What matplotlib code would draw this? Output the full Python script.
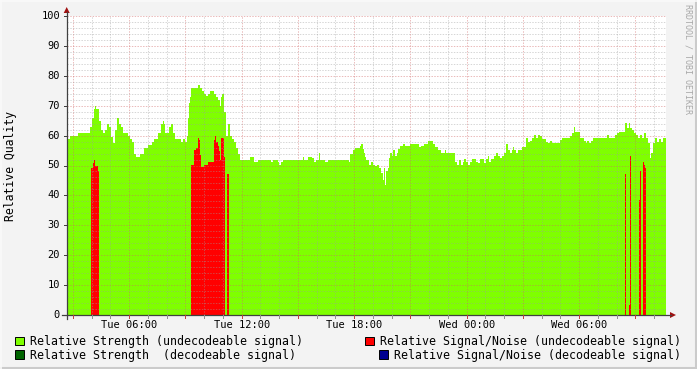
import numpy as np
import matplotlib
matplotlib.use("Agg")
import matplotlib.pyplot as plt
from matplotlib.lines import Line2D
from matplotlib.patches import Rectangle, Polygon
from matplotlib.transforms import blended_transform_factory

# ---------------- data (minutes since Tue 00:00, step starts) ----------------
strength_t = [160, 164, 171, 196, 235, 241, 247, 251, 254, 263,
              270, 276, 283, 289, 295, 302, 308, 315, 321, 327,
              334, 340, 356, 363, 369, 375, 382, 395, 407, 420,
              433, 439, 452, 462, 468, 471, 475, 487, 494, 500,
              507, 526, 532, 539, 545, 548, 551, 555, 558, 580,
              587, 593, 599, 606, 612, 619, 631, 638, 644, 651,
              654, 657, 663, 670, 676, 683, 689, 695, 702, 708,
              715, 747, 759, 772, 815, 820, 836, 839, 846, 852,
              916, 919, 932, 945, 951, 958, 966, 971, 986, 996,
              1063, 1067, 1076, 1083, 1099, 1102, 1108, 1111, 1115, 1118,
              1127, 1134, 1140, 1147, 1153, 1160, 1166, 1172, 1176, 1180,
              1183, 1189, 1192, 1196, 1201, 1205, 1211, 1217, 1221, 1227,
              1237, 1244, 1259, 1287, 1294, 1303, 1316, 1332, 1339, 1347,
              1358, 1371, 1374, 1403, 1409, 1415, 1422, 1428, 1431, 1438,
              1444, 1451, 1457, 1470, 1476, 1483, 1495, 1502, 1508, 1511,
              1518, 1527, 1534, 1540, 1547, 1553, 1559, 1566, 1572, 1579,
              1585, 1588, 1591, 1598, 1604, 1617, 1623, 1630, 1636, 1643,
              1649, 1655, 1662, 1668, 1675, 1681, 1694, 1700, 1707, 1713,
              1739, 1745, 1771, 1777, 1783, 1787, 1803, 1815, 1822, 1825,
              1831, 1838, 1844, 1889, 1895, 1915, 1921, 1927, 1947, 1953,
              1959, 1963, 1969, 1975, 1982, 1988, 1995, 2001, 2007, 2014,
              2020, 2027, 2030, 2036, 2043, 2049, 2056, 2062, 2068]
strength_v = [58, 59, 60, 61, 63, 66, 69, 70, 69, 65,
              62, 61, 62, 64, 63, 59.5, 57.5, 62, 66, 64,
              63, 61, 60, 59, 58, 54, 53, 54, 56, 57,
              58, 59, 61, 64, 65, 64, 61, 63, 64, 61,
              59, 58, 59, 58, 60, 66, 71, 73, 76, 77,
              76, 75, 74, 73.3, 74, 75, 74, 73, 72, 70,
              73, 74, 68, 60, 64, 60, 59, 58, 56, 54,
              52, 53, 51.3, 52, 51.3, 52, 51.3, 50.2, 51.3, 52,
              53, 52, 53, 52.4, 51.3, 52, 54.3, 52, 51.3, 52,
              51.3, 54, 55.2, 56, 56.6, 57.2, 55.4, 54.3, 53, 52,
              50.2, 51.3, 50.2, 49.7, 50.2, 49.1, 47.4, 45.2, 49, 43.6,
              48, 49.1, 52.4, 54.1, 53.2, 55.2, 53.2, 54.3, 55.4, 56.6,
              57.2, 56.6, 57.2, 56.3, 56.6, 57.2, 58.1, 57.2, 56.3, 55.2,
              54.3, 55.2, 54.3, 51.3, 50.2, 52, 50.2, 51.3, 52.1, 51.3,
              50.2, 51.3, 52.1, 51.3, 50.8, 52.1, 50.8, 52.1, 53.2, 51.3,
              52.1, 53.2, 54.1, 53.2, 52.4, 53.2, 54.1, 57.2, 55.2, 54.3,
              55.2, 56.1, 55.2, 54.3, 55.2, 56.1, 56.3, 59.1, 58, 58.3,
              59.1, 60.2, 59.1, 60.2, 59.7, 58.8, 58, 57.4, 58.3, 57.4,
              58.6, 59.1, 59.9, 60.8, 63, 61.3, 59.2, 58.3, 57.4, 58.3,
              57.4, 58.3, 59.2, 60.1, 59.2, 60.1, 61, 61.2, 64.1, 62.4,
              64.1, 62.4, 61.9, 61, 60.2, 59.2, 60.2, 59.2, 61, 59.2,
              57.4, 52.4, 54.3, 57.4, 59.2, 58, 58.8, 58, 59.2]

snr_t = [160, 238, 244, 247, 251, 260, 263,
         558, 567, 574, 580, 583, 587, 590, 599, 612, 631, 635, 638, 644, 647,
         651, 654, 663, 667, 674, 680,
         1947, 1950, 1959, 1963, 1966, 1991, 1995, 1998, 2004, 2007, 2011, 2014]
snr_v = [0, 49, 51, 52, 50, 48, 0,
         50.1, 55.2, 56, 59.1, 58.6, 53.6, 49.4, 50.2, 51.3, 58.6, 59.7, 58, 56.6, 54.7,
         51.9, 59.1, 53, 0, 47.2, 0,
         47.2, 0, 3.3, 53.2, 0, 38.5, 48.2, 0, 51.2, 50.2, 49.2, 0]

t_start, t_end = 160, 2078  # minutes

tick_hours = [6, 12, 18, 24, 30]
tick_labels = ["Tue 06:00", "Tue 12:00", "Tue 18:00", "Wed 00:00", "Wed 06:00"]
y_ticks = list(range(0, 101, 10))

legend_items = [
    ("Relative Strength (undecodeable signal)", "#7FFF00"),
    ("Relative Signal/Noise (undecodeable signal)", "#FF0000"),
    ("Relative Strength  (decodeable signal)", "#006400"),
    ("Relative Signal/Noise (decodeable signal)", "#000090"),
]

# ---------------- figure ----------------
W, H = 697, 369
fig = plt.figure(figsize=(W / 100, H / 100), dpi=100)
fig.patch.set_facecolor("#F3F3F3")


def fx(px):
    return px / W


def fy(py):
    return 1 - py / H


L, R, T, B = 66.7, 666, 16, 315
ax = fig.add_axes([fx(L), fy(B), (R - L) / W, (B - T) / H])
ax.set_facecolor("white")
for s in ax.spines.values():
    s.set_visible(False)
ax.set_xticks([])
ax.set_yticks([])
ax.set_xlim(t_start / 60, t_end / 60)
ax.set_ylim(0, 100)

# strength area
st = np.array(strength_t + [t_end]) / 60.0
sv = np.array(strength_v + [strength_v[-1]])
ax.fill_between(st, sv, 0, step="post", color="#7FFF00", lw=0, zorder=1,
                antialiased=False)
# snr area
nt = np.array(snr_t + [t_end]) / 60.0
nv = np.array(snr_v + [0])
ax.fill_between(nt, nv, 0, step="post", color="#FF0000", lw=0, zorder=2,
                antialiased=False)

# grid
minor_c = (0.62, 0.62, 0.62, 0.42)
major_c = (0.82, 0.40, 0.40, 0.45)
dash = (0, (1.4, 1.4))
for h in range(3, 35):
    c = major_c if h % 3 == 0 else minor_c
    ax.axvline(h, color=c, lw=0.72, ls=dash, zorder=3)
for v in range(2, 101, 2):
    c = major_c if v % 10 == 0 else minor_c
    ax.axhline(v, color=c, lw=0.72, ls=dash, zorder=3)

# axes lines and arrows
axis_c = "#404040"
arrow_c = "#A01010"
fig.add_artist(Line2D([fx(66.7), fx(66.7)], [fy(319), fy(12)], color=axis_c, lw=0.9))
fig.add_artist(Line2D([fx(62), fx(671)], [fy(315), fy(315)], color=axis_c, lw=0.9))
fig.add_artist(Polygon([[fx(63.7), fy(13)], [fx(69.7), fy(13)], [fx(66.7), fy(7)]],
                       closed=True, color=arrow_c, lw=0))
fig.add_artist(Polygon([[fx(670), fy(312)], [fx(670), fy(318)], [fx(676), fy(315)]],
                       closed=True, color=arrow_c, lw=0))

mono = "DejaVu Sans Mono"
tx = blended_transform_factory(ax.transData, fig.transFigure)
# x ticks marks
for h in range(3, 35):
    c = "#C04040" if h % 3 == 0 else "#909090"
    fig.add_artist(Line2D([h, h], [fy(315), fy(318)], transform=tx, color=c, lw=0.72))
for h, lab in zip(tick_hours, tick_labels):
    ax.text(h, fy(324.5), lab, transform=tx, ha="center", va="center",
            fontsize=7.5, family=mono, color="black")

ty = blended_transform_factory(fig.transFigure, ax.transData)
for v in y_ticks:
    fig.add_artist(Line2D([fx(63.7), fx(66.7)], [v, v], transform=ty, color=axis_c, lw=0.72))
    ax.text(fx(60), v, str(v), transform=ty, ha="right", va="center",
            fontsize=7.5, family=mono, color="black")

fig.text(fx(11), fy(165.5), "Relative Quality", rotation=90, ha="center",
         va="center", fontsize=8.3, family=mono, color="black")

fig.text(fx(688), fy(4), "RRDTOOL / TOBI OETIKER", rotation=270, ha="center",
         va="top", fontsize=6, family=mono, color="#A8A8A8")

# legend
positions = [(15, 336.7, 30, 341.5), (365, 336.7, 380, 341.5),
             (15, 350.3, 30, 355), (379.3, 350.3, 394.3, 355)]
for (label, col), (sx, sy, tx0, ty0) in zip(legend_items, positions):
    fig.add_artist(Rectangle((fx(sx), fy(sy + 8.5)), 8.5 / W, 8.5 / H,
                             facecolor=col, edgecolor="black", lw=0.7,
                             transform=fig.transFigure))
    fig.text(fx(tx0), fy(ty0), label, ha="left", va="center", fontsize=8.37,
             family=mono, color="black")

# 3d frame
fig.add_artist(Line2D([fx(0), fx(W)], [fy(H - 1.5), fy(H - 1.5)], color="#CBCBCB", lw=2.2))
fig.add_artist(Line2D([fx(W - 1.5), fx(W - 1.5)], [fy(0), fy(H)], color="#CBCBCB", lw=2.2))
fig.add_artist(Line2D([fx(0), fx(W)], [fy(0.5), fy(0.5)], color="#FAFAFA", lw=1.2))
fig.add_artist(Line2D([fx(0.5), fx(0.5)], [fy(0), fy(H)], color="#FAFAFA", lw=1.2))

fig.savefig("out.png", dpi=100, facecolor=fig.get_facecolor())
